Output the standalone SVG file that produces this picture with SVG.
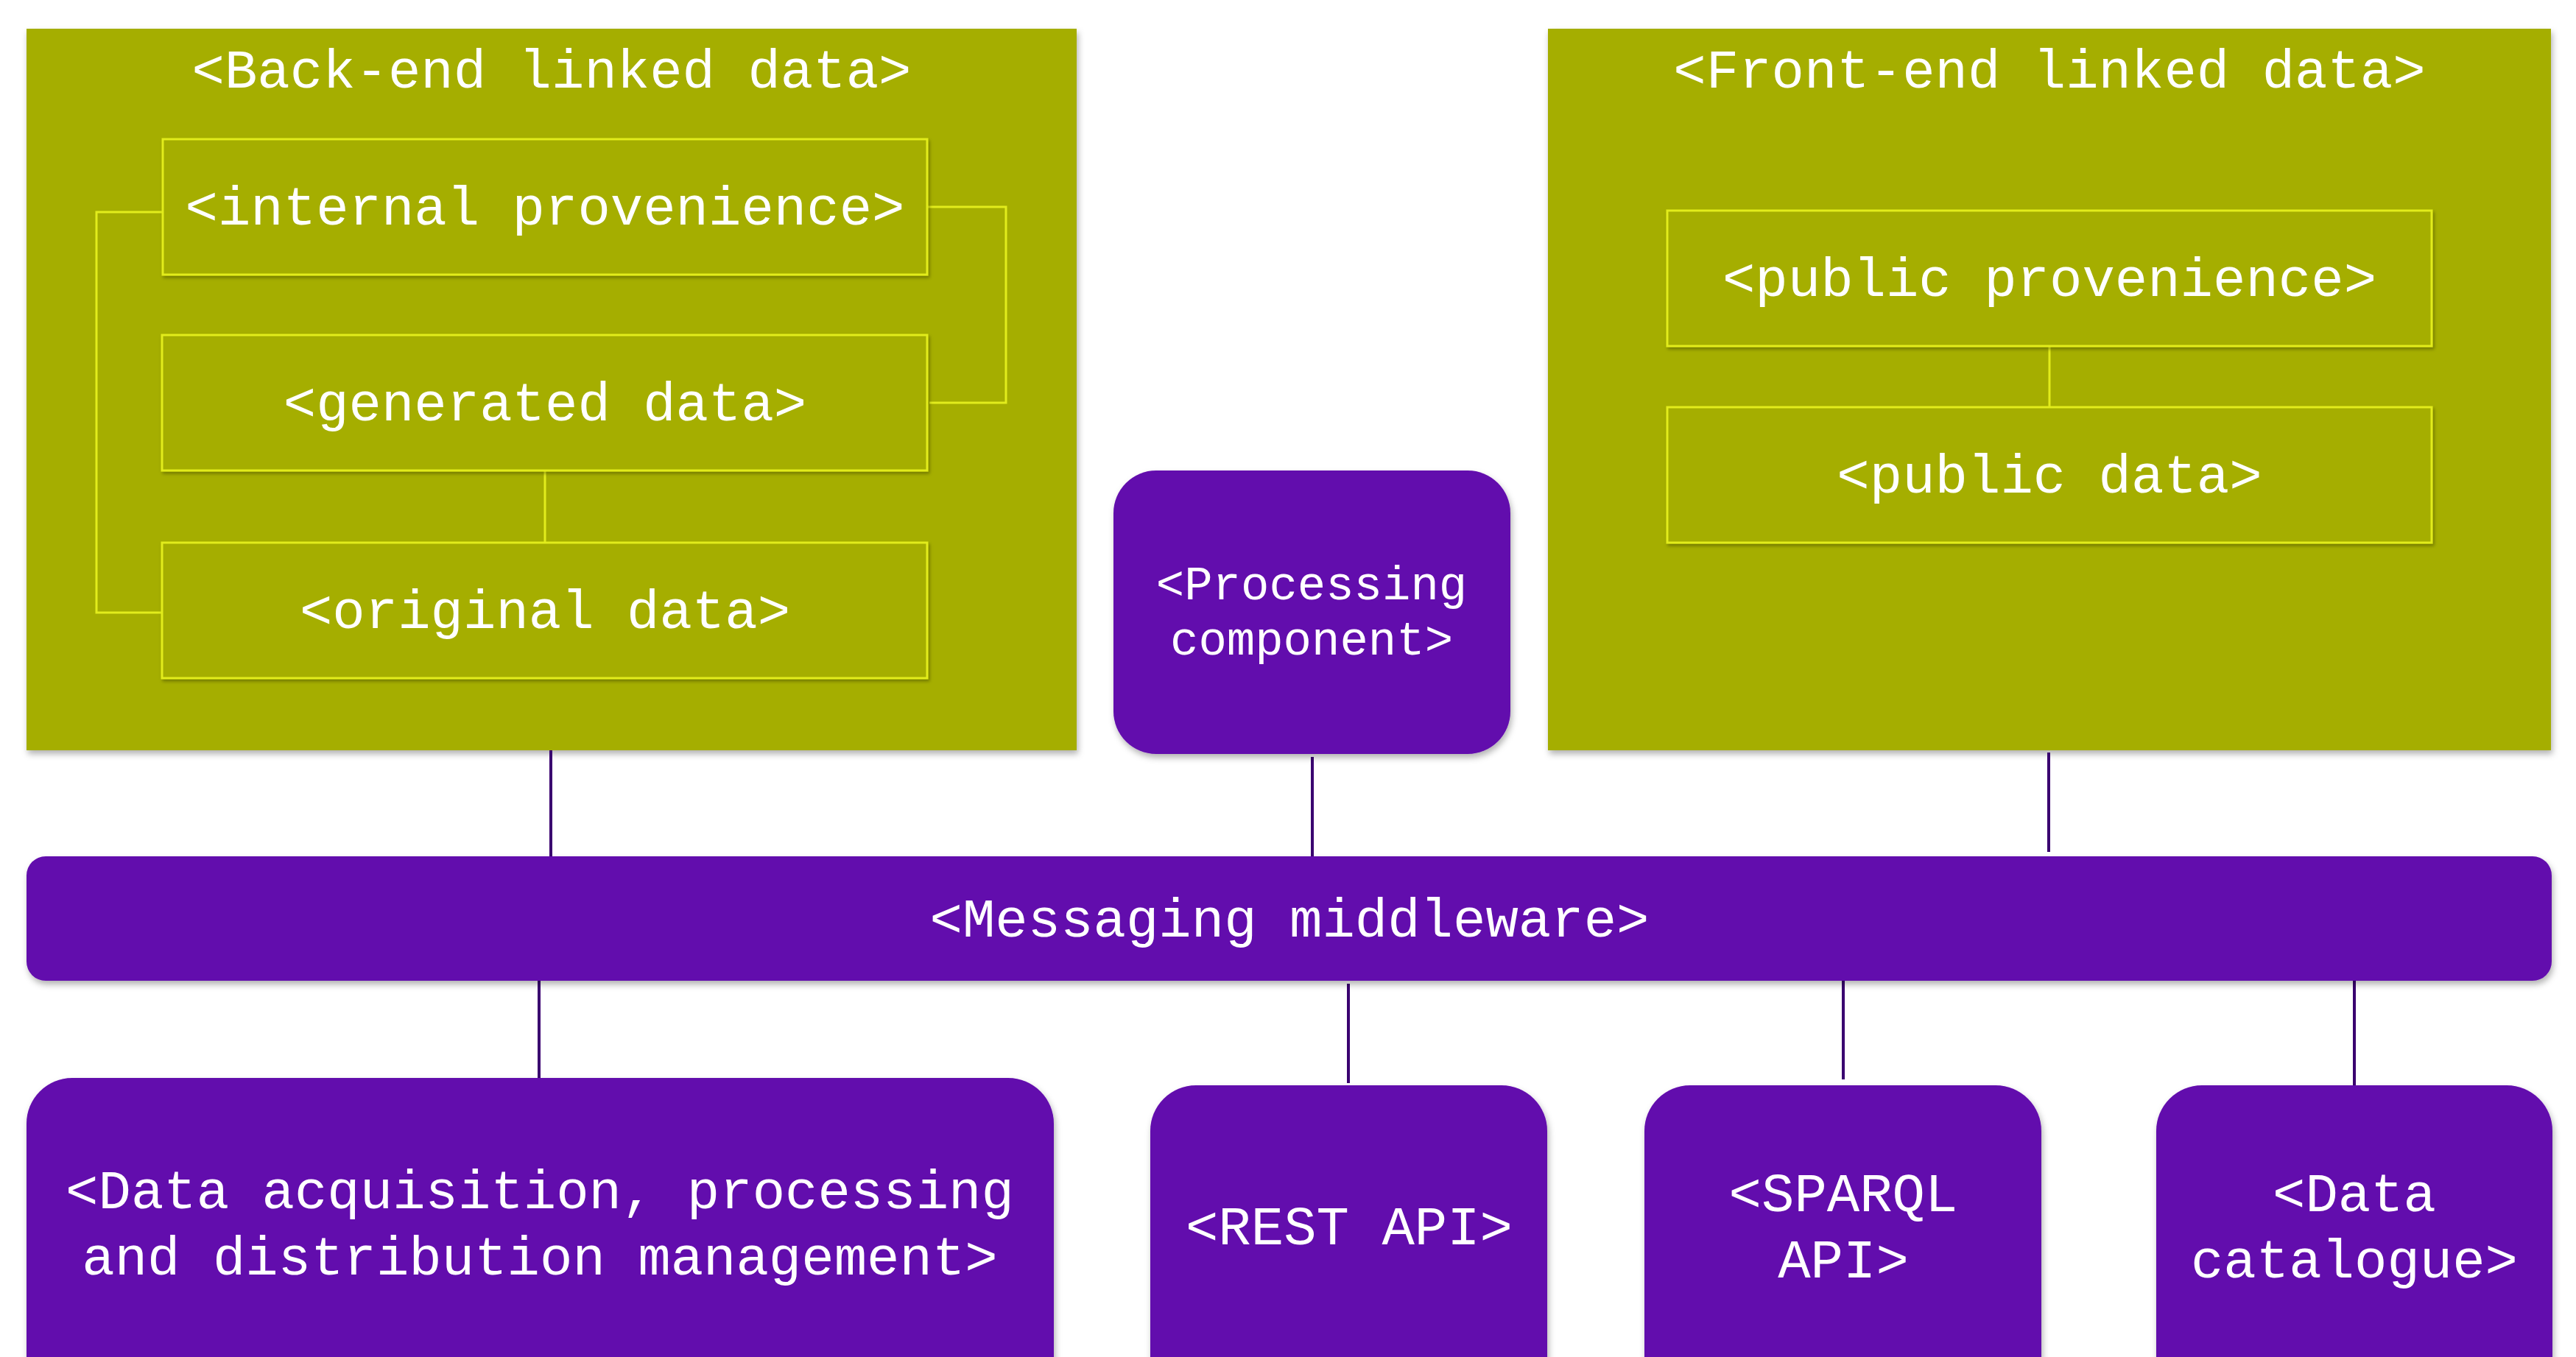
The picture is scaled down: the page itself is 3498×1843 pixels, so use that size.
<svg xmlns="http://www.w3.org/2000/svg" width="3498" height="1843" viewBox="0 0 3498 1843">
<style>
.grp{fill:#a5ae06}
.inner{fill:#a5ae06;stroke:#e2ec1c;stroke-width:3}
.pur{fill:#6209ad}
.t{font-family:"Liberation Mono","Courier New",monospace;font-size:74px;fill:#ffffff;text-anchor:middle}
.ts{font-size:64px}
.cy{fill:none;stroke:#e2ec1c;stroke-width:3}
.cp{fill:none;stroke:#3a0070;stroke-width:4}
</style>
<defs>
<filter id="sh" x="-5%" y="-5%" width="110%" height="115%">
<feDropShadow dx="2" dy="5" stdDeviation="4" flood-color="#000" flood-opacity="0.3"/>
</filter>
<filter id="shs" x="-5%" y="-5%" width="110%" height="120%">
<feDropShadow dx="2" dy="3" stdDeviation="2" flood-color="#000" flood-opacity="0.3"/>
</filter>
</defs>
<rect width="3498" height="1843" fill="#ffffff"/>

<g id="backend">
<rect class="grp" x="36" y="39" width="1426" height="980" filter="url(#sh)"/>
<text class="t" x="749" y="119">&lt;Back-end linked data&gt;</text>
</g>
<g id="frontend">
<rect class="grp" x="2102" y="39" width="1362" height="980" filter="url(#sh)"/>
<text class="t" x="2783" y="119">&lt;Front-end linked data&gt;</text>
</g>

<g id="inner-connectors">
<polyline class="cy" points="221,288 131,288 131,832 220,832"/>
<polyline class="cy" points="1259,281 1366,281 1366,547 1262,547"/>
<line class="cy" x1="740" y1="640" x2="740" y2="737"/>
<line class="cy" x1="2783" y1="470" x2="2783" y2="553"/>
</g>

<g id="internal-provenience">
<rect class="inner" x="221" y="189" width="1038" height="184" filter="url(#shs)"/>
<text class="t" x="740" y="305">&lt;internal provenience&gt;</text>
</g>
<g id="generated-data">
<rect class="inner" x="220" y="455" width="1039" height="184" filter="url(#shs)"/>
<text class="t" x="740" y="571">&lt;generated data&gt;</text>
</g>
<g id="original-data">
<rect class="inner" x="220" y="737" width="1039" height="184" filter="url(#shs)"/>
<text class="t" x="740" y="853">&lt;original data&gt;</text>
</g>
<g id="public-provenience">
<rect class="inner" x="2264" y="286" width="1038" height="184" filter="url(#shs)"/>
<text class="t" x="2783" y="402">&lt;public provenience&gt;</text>
</g>
<g id="public-data">
<rect class="inner" x="2264" y="553" width="1038" height="184" filter="url(#shs)"/>
<text class="t" x="2783" y="669">&lt;public data&gt;</text>
</g>

<g id="connectors">
<line class="cp" x1="748" y1="1019" x2="748" y2="1163"/>
<line class="cp" x1="1782" y1="1028" x2="1782" y2="1163"/>
<line class="cp" x1="2782" y1="1022" x2="2782" y2="1157"/>
<line class="cp" x1="732" y1="1332" x2="732" y2="1464"/>
<line class="cp" x1="1831" y1="1336" x2="1831" y2="1471"/>
<line class="cp" x1="2503" y1="1332" x2="2503" y2="1466"/>
<line class="cp" x1="3197" y1="1332" x2="3197" y2="1474"/>
</g>

<g id="processing-component">
<rect class="pur" x="1512" y="639" width="539" height="385" rx="58" ry="58" filter="url(#sh)"/>
<text class="t ts" x="1781" y="814">&lt;Processing</text>
<text class="t ts" x="1781" y="889">component&gt;</text>
</g>

<g id="messaging-middleware">
<rect class="pur" x="36" y="1163" width="3429" height="169" rx="26" ry="26" filter="url(#sh)"/>
<text class="t" x="1751" y="1272">&lt;Messaging middleware&gt;</text>
</g>

<g id="data-acquisition">
<rect class="pur" x="36" y="1464" width="1395" height="460" rx="62" ry="62" filter="url(#sh)"/>
<text class="t" x="733" y="1641">&lt;Data acquisition, processing</text>
<text class="t" x="733" y="1731">and distribution management&gt;</text>
</g>
<g id="rest-api">
<rect class="pur" x="1562" y="1474" width="539" height="450" rx="62" ry="62" filter="url(#sh)"/>
<text class="t" x="1832" y="1690">&lt;REST API&gt;</text>
</g>
<g id="sparql-api">
<rect class="pur" x="2233" y="1474" width="539" height="450" rx="62" ry="62" filter="url(#sh)"/>
<text class="t" x="2503" y="1645">&lt;SPARQL</text>
<text class="t" x="2503" y="1735">API&gt;</text>
</g>
<g id="data-catalogue">
<rect class="pur" x="2928" y="1474" width="538" height="450" rx="62" ry="62" filter="url(#sh)"/>
<text class="t" x="3197" y="1645">&lt;Data</text>
<text class="t" x="3197" y="1735">catalogue&gt;</text>
</g>
</svg>
